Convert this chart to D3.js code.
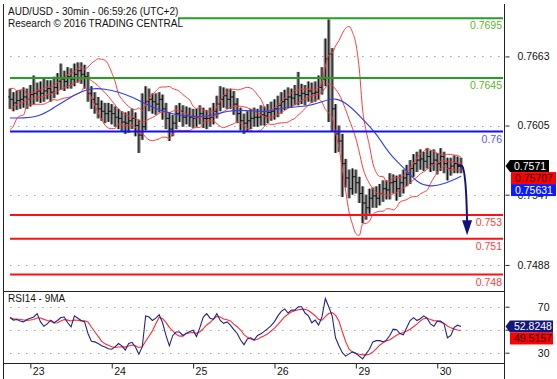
<!DOCTYPE html>
<html><head><meta charset="utf-8">
<script src="https://cdn.jsdelivr.net/npm/d3@7"></script>
<style>body{margin:0;background:#fff}svg{display:block;font-family:"Liberation Sans",Arial,sans-serif}</style>
</head><body><svg id="c" width="557" height="379"></svg>
<script>
// ---------- data (prices in 1e-4 units, hourly bars) ----------
const dayLabels = ["23","24","25","26","29","30"];
const dayStartIndex = [6,30,54,78,102,126];
const openFirst = 7629;
const priorCloses = [7608,7604,7615,7620,7610,7622,7628,7624,7630];
const closes = [7627,7624,7626,7627,7629,7627,7631,7632,7634,7632,
7634,7636,7633,7637,7642,7644,7642,7646,7644,7648,
7651,7648,7646,7632,7627,7623,7619,7617,7615,7617,
7615,7612,7611,7608,7607,7609,7611,7605,7597,7604,
7625,7627,7625,7623,7627,7619,7611,7602,7607,7615,
7617,7612,7614,7612,7611,7612,7615,7611,7611,7612,
7617,7623,7627,7630,7627,7629,7623,7615,7609,7607,
7609,7611,7612,7612,7614,7613,7616,7617,7619,7622,
7625,7627,7629,7628,7631,7630,7632,7631,7634,7632,
7633,7637,7644,7661,7665,7619,7598,7592,7573,7561,
7552,7562,7557,7548,7540,7536,7544,7546,7544,7548,
7552,7551,7557,7558,7552,7557,7561,7564,7569,7573,
7576,7577,7575,7579,7573,7576,7573,7579,7573,7569,
7571,7573,7572,7571];
const highs = [7636,7633,7634,7635,7637,7636,7639,7647,7641,7642,
7645,7643,7643,7646,7649,7657,7651,7654,7653,7657,
7658,7658,7656,7650,7638,7633,7629,7626,7624,7624,
7623,7621,7619,7617,7616,7617,7619,7616,7610,7632,
7638,7636,7632,7632,7633,7631,7624,7616,7614,7622,
7624,7622,7621,7620,7619,7619,7622,7620,7618,7620,
7624,7630,7638,7637,7636,7636,7634,7628,7620,7615,
7617,7619,7620,7619,7622,7621,7623,7625,7627,7630,
7633,7635,7637,7636,7639,7650,7640,7639,7642,7641,
7642,7647,7654,7678,7694,7670,7623,7605,7598,7577,
7568,7569,7568,7562,7554,7547,7552,7553,7554,7556,
7559,7559,7565,7564,7563,7564,7568,7572,7576,7581,
7583,7585,7583,7586,7584,7585,7582,7586,7583,7578,
7578,7580,7579,7578];
const lows = [7619,7617,7618,7619,7620,7619,7621,7623,7625,7624,
7625,7627,7625,7628,7631,7635,7634,7636,7636,7638,
7641,7640,7636,7625,7619,7615,7611,7609,7607,7608,
7606,7604,7602,7600,7598,7599,7602,7596,7582,7593,
7601,7617,7615,7614,7616,7610,7602,7592,7596,7602,
7608,7604,7606,7604,7603,7604,7606,7603,7602,7604,
7606,7611,7617,7620,7619,7619,7614,7607,7601,7598,
7600,7602,7604,7604,7605,7605,7607,7609,7610,7612,
7615,7618,7620,7620,7622,7622,7623,7622,7625,7624,
7625,7627,7631,7638,7608,7600,7582,7583,7545,7553,
7544,7547,7548,7540,7523,7526,7531,7536,7536,7538,
7541,7543,7543,7548,7542,7545,7548,7554,7556,7562,
7566,7568,7567,7569,7566,7567,7564,7567,7565,7559,
7563,7565,7565,7565];
const maIndex = [0,4,8,12,16,20,24,28,32,36,40,44,48,52,56,60,64,68,72,76,80,84,88,92,96,100,104,108,112,116,120,124,128,132,133];
const maValues = [7611.3,7611.3,7612.2,7618,7625.6,7632.3,7636.5,7635.7,7633.2,7629,7623.1,7618,7614.7,7613,7612.2,7613.8,7617.2,7618,7617.2,7616.4,7619.7,7620.6,7621.4,7624.8,7629,7622.2,7610.5,7598.7,7580.3,7570.2,7556.8,7553.4,7555.9,7560.8,7562.5];
const rsi = [60.6,58.3,58.9,57.5,56.8,58.9,60,61.1,64,56.8,
53,55,58.3,56,58,60.6,61,56,52.4,62,
60,58,56.8,46.7,40,39.4,38,36,35,33.5,
33,35,38,36,32.2,38,39,35,28.7,35,
62,61,58,60,63,56,45,36,45,48,
48,45,47,48.5,49.6,44,52,61,64,60,
59,64,58,55.5,56.8,54,50,46.7,41,37,
42,43,41,45,46.5,48.5,51,53.5,57,62,
66,68,64.5,67,67,70,70,64.5,62,56,
58.3,54,61.1,77.1,70,62,43,36,30,27,
29,30.7,29.5,27,24.5,29,33,39.4,40.5,40.5,
39.4,40.9,45,50.5,50,46.7,45.5,52,58,60.5,
58,59.5,62,60,55,53,57.5,57.5,55,43,
45,52,53.9,52.8248];
const levelValues = [0.7695,0.7645,0.76,0.753,0.751,0.748];
const levelLabels = ["0.7695","0.7645","0.76","0.753","0.751","0.748"];
const levelKinds = ["g","g","b","r","r","r"];
const priceTicks = [0.7663,0.7605,0.7547,0.7488];
const priceTickLabels = ["0.7663","0.7605","0.7547","0.7488"];
const rsiTicks = [70,50,30];
const priceTagValues = [0.7571,0.75707,0.75631];
const priceTagLabels = ["0.7571","0.75707","0.75631"];
const rsiTagValues = [52.8248,49.5157];
const rsiTagLabels = ["52.8248","49.5157"];
const arrowTarget = 0.7513;
const arrowEndIndex = 134.8;

// ---------- scales ----------
const P = v => v/10000;
const x = d3.scaleLinear().domain([0,133]).range([10,461]);
const y = d3.scaleLinear().domain([0.748,0.7695]).range([274.5,18.3]);
const yr = d3.scaleLinear().domain([30,70]).range([352.7,306.7]);
const svg = d3.select("#c");
const L=3.5, R=504.5, SEP=291.5, BOT=363.5;
const FS = 10;

// dotted gridlines
svg.append("g").selectAll("line").data(priceTicks).join("line")
  .attr("x1",10).attr("x2",503).attr("y1",d=>Math.round(y(d))+0.5).attr("y2",d=>Math.round(y(d))+0.5)
  .attr("stroke","#a8a8a8").attr("stroke-dasharray","1.5,6.5");
svg.append("g").selectAll("line").data(rsiTicks).join("line")
  .attr("x1",10).attr("x2",503).attr("y1",d=>Math.round(yr(d))+0.5).attr("y2",d=>Math.round(yr(d))+0.5)
  .attr("stroke","#a8a8a8").attr("stroke-dasharray","1.5,6.5");

// bars
const barData = closes.map((c,i)=>({i,o:i?closes[i-1]:openFirst,c,h:highs[i],l:lows[i]}));
const gb = svg.append("g");
gb.selectAll("rect").data(barData).join("rect")
  .attr("x",d=>x(d.i)-1.7).attr("width",3.4)
  .attr("y",d=>y(P(d.h))).attr("height",d=>y(P(d.l))-y(P(d.h)))
  .attr("fill","#8a8a8a");
gb.selectAll("line.w").data(barData).join("line").attr("class","w")
  .attr("x1",d=>x(d.i)).attr("x2",d=>x(d.i)).attr("y1",d=>y(P(d.h))).attr("y2",d=>y(P(d.l)))
  .attr("stroke","#111").attr("stroke-width",1);
gb.selectAll("line.cl").data(barData).join("line").attr("class","cl")
  .attr("x1",d=>x(d.i)).attr("x2",d=>x(d.i)+1.8).attr("y1",d=>y(P(d.c))).attr("y2",d=>y(P(d.c)))
  .attr("stroke","#111").attr("stroke-width",1);
gb.selectAll("line.op").data(barData).join("line").attr("class","op")
  .attr("x1",d=>x(d.i)-1.8).attr("x2",d=>x(d.i)).attr("y1",d=>y(P(d.o))).attr("y2",d=>y(P(d.o)))
  .attr("stroke","#111").attr("stroke-width",1);

// Bollinger bands (10 hourly bars ~ 20 half-hour bars, 2 sd)
const all = priorCloses.concat(closes);
const bb = closes.map((c,i)=>{
  const k=i+priorCloses.length; const w=all.slice(k-9,k+1);
  const m=d3.mean(w); const sd=Math.sqrt(d3.mean(w,v=>(v-m)*(v-m)));
  return {i,m,u:m+2*sd,l:m-2*sd};
});
const line = d3.line().curve(d3.curveMonotoneX);
["u","m","l"].forEach(k=>{
  svg.append("path").attr("d",line(bb.map(d=>[x(d.i),y(P(d[k]))])))
    .attr("fill","none").attr("stroke","#ff3b3b").attr("stroke-width",1);
});
// blue moving average
svg.append("path").attr("d",d3.line().curve(d3.curveBasis)(maIndex.map((ix,j)=>[x(ix),y(P(maValues[j]))])))
  .attr("fill","none").attr("stroke","#3040ee").attr("stroke-width",1.1);

// level lines
const lvlColor={g:"#22a022",b:"#1010ff",r:"#ff1010"};
const lvlText={g:"#5fb52e",b:"#5555ff",r:"#ff3c3c"};
levelValues.forEach((v,j)=>{
  const yy=y(v);
  svg.append("line").attr("x1",10).attr("x2",503).attr("y1",yy).attr("y2",yy)
    .attr("stroke",lvlColor[levelKinds[j]]).attr("stroke-width",2);
  svg.append("text").attr("x",502).attr("y",yy+11).attr("text-anchor","end")
    .attr("font-size",10.5).attr("fill",lvlText[levelKinds[j]]).text(levelLabels[j]);
});

// arrow
const ac = closes[closes.length-1];
const ax0=x(closes.length-1), ay0=y(P(ac)), ax1=x(arrowEndIndex), ay1=y(arrowTarget);
svg.append("path").attr("d",`M${ax0-3},${ay0} L${ax0+1},${ay0} Q${ax1-1},${ay0+4} ${ax1},${ay1-12}`)
  .attr("fill","none").attr("stroke","#12127a").attr("stroke-width",2);
svg.append("path").attr("d",`M${ax1-5},${ay1-15} L${ax1+5},${ay1-15} L${ax1},${ay1} Z`).attr("fill","#12127a");

// RSI
const rsiMA = rsi.map((v,i)=>d3.mean(rsi.slice(Math.max(0,i-4),i+1)));
svg.append("path").attr("d",d3.line()(rsiMA.map((v,i)=>[x(i),yr(v)])))
  .attr("fill","none").attr("stroke","#ff2a2a").attr("stroke-width",1.1);
svg.append("path").attr("d",d3.line()(rsi.map((v,i)=>[x(i),yr(v)])))
  .attr("fill","none").attr("stroke","#22228f").attr("stroke-width",1.1);

// title with white background
const tg = svg.append("g");
tg.append("rect").attr("x",5).attr("y",4).attr("width",173).attr("height",25).attr("fill","#fff");
tg.append("text").attr("x",8).attr("y",15).attr("font-size",FS).attr("fill","#111").text("AUD/USD - 30min - 06:59:26 (UTC+2)");
tg.append("text").attr("x",8).attr("y",27).attr("font-size",FS).attr("fill","#111").text("Research © 2016 TRADING CENTRAL");
svg.append("text").attr("x",8).attr("y",302).attr("font-size",FS).attr("fill","#111").text("RSI14 - 9MA");

// frame
const fr = svg.append("g").attr("stroke","#222").attr("stroke-width",1);
fr.append("line").attr("x1",L).attr("x2",L).attr("y1",4).attr("y2",379);
fr.append("line").attr("x1",R).attr("x2",R).attr("y1",4).attr("y2",379);
fr.append("line").attr("x1",L).attr("x2",R).attr("y1",SEP).attr("y2",SEP);
fr.append("line").attr("x1",L).attr("x2",R).attr("y1",BOT).attr("y2",BOT);

// axes
const xa = svg.append("g").attr("transform",`translate(0,${BOT})`)
  .call(d3.axisBottom(x).tickValues(dayStartIndex).tickFormat((d,j)=>dayLabels[j]).tickSize(5));
xa.select(".domain").remove();
xa.selectAll("line").attr("stroke","#222");
xa.selectAll("text").attr("text-anchor","start").attr("dx",2).attr("dy",0).attr("y",11.5)
  .attr("font-size",10.5).attr("fill","#111").attr("font-family","Liberation Sans, Arial, sans-serif");

const ya = svg.append("g").attr("transform",`translate(${R},0)`)
  .call(d3.axisRight(y).tickValues(priceTicks).tickFormat((d,j)=>priceTickLabels[j]).tickSize(5).tickPadding(0));
ya.select(".domain").remove();
ya.selectAll("line").attr("stroke","#222").attr("x1",1);
ya.selectAll("text").attr("x",45).attr("text-anchor","end").attr("font-size",10.5).attr("fill","#111")
  .attr("font-family","Liberation Sans, Arial, sans-serif");
const ra = svg.append("g").attr("transform",`translate(${R},0)`)
  .call(d3.axisRight(yr).tickValues(rsiTicks).tickSize(5).tickPadding(0));
ra.select(".domain").remove();
ra.selectAll("line").attr("stroke","#222").attr("x1",1);
ra.selectAll("text").attr("x",45).attr("text-anchor","end").attr("font-size",10.5).attr("fill","#111")
  .attr("font-family","Liberation Sans, Arial, sans-serif");

// value tags
function tags(vals,labels,scale,specs){
  let prevBottom=-1e9;
  vals.forEach((v,j)=>{
    const s=specs[j]; const h=12;
    let top=scale(v)-h/2; if(top<prevBottom) top=prevBottom; prevBottom=top+h;
    const g=svg.append("g");
    if(s.ptr){
      g.append("path").attr("d",`M${R+1},${top+h/2} L${s.x0},${top} L${s.x1},${top} L${s.x1},${top+h} L${s.x0},${top+h} Z`).attr("fill",s.fill);
    } else {
      g.append("rect").attr("x",s.x0).attr("y",top).attr("width",s.x1-s.x0).attr("height",h).attr("fill",s.fill);
    }
    g.append("text").attr("x",s.tx).attr("y",top+h/2+4).attr("font-size",10.5).attr("fill",s.tf).text(labels[j]);
  });
}
tags(priceTagValues,priceTagLabels,y,[
  {ptr:true,x0:510,x1:549,fill:"#000",tf:"#fff",tx:514},
  {ptr:false,x0:511,x1:556,fill:"#ff0000",tf:"#200000",tx:515},
  {ptr:false,x0:511,x1:556,fill:"#0a1cff",tf:"#fff",tx:515}]);
tags(rsiTagValues,rsiTagLabels,yr,[
  {ptr:true,x0:510,x1:553,fill:"#15157a",tf:"#fff",tx:514},
  {ptr:false,x0:510,x1:553,fill:"#ff0000",tf:"#200000",tx:514}]);
</script></body></html>
